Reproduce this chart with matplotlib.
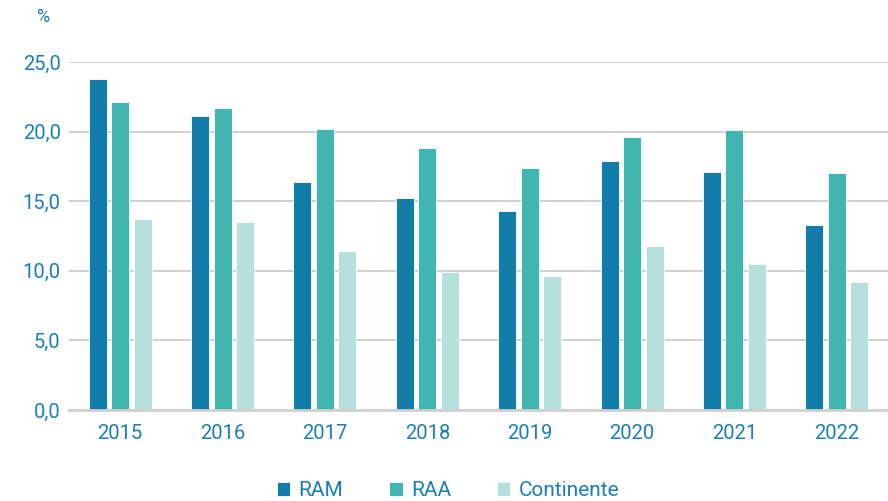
import matplotlib
matplotlib.use("Agg")
import matplotlib.pyplot as plt
import numpy as np

plt.rcParams['font.family'] = ['Roboto', 'DejaVu Sans']

years = ["2015", "2016", "2017", "2018", "2019", "2020", "2021", "2022"]
ram = [23.8, 21.1, 16.4, 15.2, 14.3, 17.9, 17.1, 13.3]
raa = [22.1, 21.7, 20.2, 18.8, 17.4, 19.6, 20.1, 17.0]
continente = [13.7, 13.5, 11.4, 9.9, 9.6, 11.8, 10.5, 9.2]
series_names = ["RAM", "RAA", "Continente"]
colors = ["#137DAA", "#41B5AF", "#B6E0DC"]
text_color = "#1A7FB3"

fig = plt.figure(figsize=(8.88, 5.01), dpi=100)
ax = fig.add_axes([69/888, 91/501, 1 - 69/888, (410-62)/501])

x = np.arange(len(years))
w = 0.176
off = 0.22
for i, (vals, name, c) in enumerate(zip([ram, raa, continente], series_names, colors)):
    ax.bar(x + (i - 1) * off, vals, width=w, color=c, label=name,
           edgecolor="white", linewidth=0.6, zorder=3)

ax.set_xlim(-0.5, len(years) - 0.5)
ax.set_ylim(0, 25)
ax.set_yticks(np.arange(0, 26, 5))
ax.set_yticklabels([f"{v:.1f}".replace(".", ",") for v in np.arange(0, 26, 5)])
ax.set_xticks(x)
ax.set_xticklabels(years)
ax.grid(axis="y", color="#C8C8C8", linewidth=1.2, zorder=0)
for s in ["top", "right", "left"]:
    ax.spines[s].set_visible(False)
ax.spines["bottom"].set_color("#D0D0D0")
ax.spines["bottom"].set_linewidth(2)
ax.spines["bottom"].set_zorder(4)
ax.tick_params(axis="both", length=0, labelsize=14.5, labelcolor=text_color)
ax.tick_params(axis="y", pad=6)
ax.tick_params(axis="x", pad=10)

fig.text(43/888, 1 - 17/501, "%", color=text_color, fontsize=13, ha="center", va="center")

leg = fig.legend(loc="center", bbox_to_anchor=(448/888, 1 - 491/501), ncol=3,
                 frameon=False, fontsize=15, handlelength=0.65, handleheight=0.65,
                 columnspacing=2.2, handletextpad=0.4)
for t in leg.get_texts():
    t.set_color(text_color)

fig.savefig("out.png", dpi=100)
